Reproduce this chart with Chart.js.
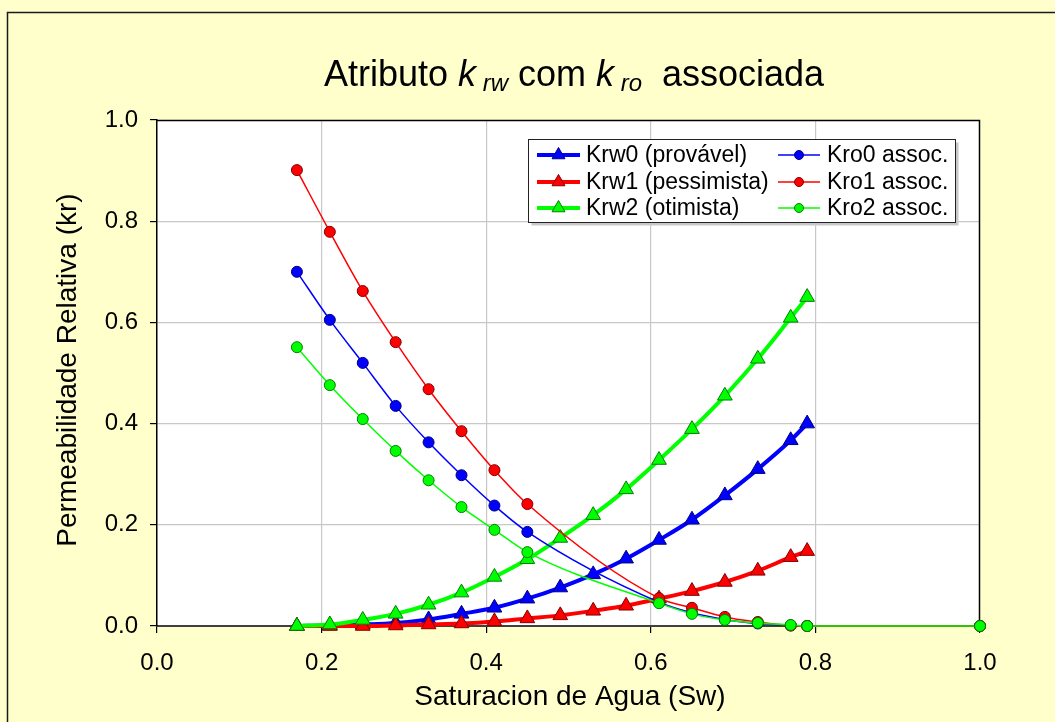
<!DOCTYPE html>
<html><head><meta charset="utf-8">
<script src="https://cdn.jsdelivr.net/npm/chart.js@4/dist/chart.umd.min.js"></script>
<style>html,body{margin:0;padding:0;background:#FFFFCC;overflow:hidden}#wrap{width:1055px;height:722px;position:relative}</style>
</head><body><div id="wrap"><canvas id="c" width="1055" height="722"></canvas></div>
<script>
// ---- data ----
const swKrw = [0.17,0.21,0.25,0.29,0.33,0.37,0.41,0.45,0.49,0.53,0.57,0.61,0.65,0.69,0.73,0.77,0.79];
const krw0  = [0.000,0.001,0.003,0.006,0.013,0.024,0.036,0.054,0.076,0.102,0.133,0.170,0.210,0.258,0.310,0.367,0.400];
const krw1  = [0.000,0.000,0.000,0.001,0.003,0.005,0.009,0.015,0.021,0.030,0.040,0.054,0.069,0.087,0.109,0.136,0.148];
const krw2  = [0.000,0.003,0.012,0.024,0.042,0.066,0.097,0.132,0.174,0.219,0.270,0.328,0.389,0.455,0.528,0.609,0.650];
const swKro = [0.17,0.21,0.25,0.29,0.33,0.37,0.41,0.45,0.61,0.65,0.69,0.73,0.77,0.79,1.0];
const kro0  = [0.700,0.605,0.520,0.435,0.363,0.298,0.238,0.186,0.047,0.026,0.013,0.005,0.001,0.000,0.000];
const kro1  = [0.901,0.779,0.662,0.561,0.468,0.385,0.308,0.241,0.055,0.036,0.018,0.008,0.001,0.000,0.000];
const kro2  = [0.551,0.476,0.409,0.346,0.288,0.235,0.190,0.146,0.045,0.024,0.012,0.006,0.002,0.000,0.000];
const seriesLabels = ['Krw0 (provável)','Krw1 (pessimista)','Krw2 (otimista)','Kro0 assoc.','Kro1 assoc.','Kro2 assoc.'];
const axisTicks = [0.0,0.2,0.4,0.6,0.8,1.0];
const xTitle = 'Saturacion de Agua (Sw)';
const yTitle = 'Permeabilidade Relativa (kr)';

const FONT = '"Liberation Sans", Arial, sans-serif';
const pts = (xs, ys) => xs.map((x,i)=>({x:x, y:ys[i]}));

function krwSet(label, ys, col, bcol, ord){
  return {label, data:pts(swKrw, ys), showLine:true, borderColor:col, backgroundColor:col,
    borderWidth:4, pointStyle:'triangle', pointRadius:8.5, pointBorderColor:bcol, pointBackgroundColor:col,
    pointBorderWidth:1, cubicInterpolationMode:'monotone', clip:false, order:ord};
}
function kroSet(label, ys, col, bcol, ord){
  return {label, data:pts(swKro, ys), showLine:true, borderColor:col, backgroundColor:col,
    borderWidth:1.5, pointStyle:'circle', pointRadius:5.5, pointBorderColor:bcol, pointBackgroundColor:col,
    pointBorderWidth:1, cubicInterpolationMode:'monotone', clip:false, order:ord};
}

const frame = {
  id:'frame',
  beforeDraw(chart){
    const {ctx, chartArea:a} = chart;
    ctx.save();
    ctx.fillStyle='#FFFFCC'; ctx.fillRect(0,0,chart.width,chart.height);
    ctx.strokeStyle='#1a1a1a'; ctx.lineWidth=1.5;
    ctx.strokeRect(7.5,12.5,chart.width+20,chart.height+20);
    ctx.fillStyle='#fff'; ctx.fillRect(a.left,a.top,a.right-a.left,a.bottom-a.top);
    ctx.restore();
  },
  beforeDatasetsDraw(chart){
    const {ctx, chartArea:a} = chart;
    ctx.save(); ctx.strokeStyle='#000'; ctx.lineWidth=1.5;
    ctx.beginPath(); ctx.moveTo(a.left,a.top+0.5); ctx.lineTo(a.right-0.5,a.top+0.5); ctx.lineTo(a.right-0.5,a.bottom); ctx.stroke();
    ctx.restore();
  },
  afterDraw(chart){
    const {ctx, chartArea:a} = chart;
    ctx.save();
    // title
    const parts = [
      {t:'Atributo ', s:36, it:false, dy:0},
      {t:'k', s:36, it:true, dy:0},
      {t:' rw', s:24, it:true, dy:5},
      {t:' com ', s:36, it:false, dy:0},
      {t:'k', s:36, it:true, dy:0},
      {t:' ro', s:24, it:true, dy:5},
      {t:'  associada', s:36, it:false, dy:0}
    ];
    let w=0;
    parts.forEach(p=>{ctx.font=(p.it?'italic ':'')+p.s+'px '+FONT; p.w=ctx.measureText(p.t).width; w+=p.w;});
    let x=574-w/2; ctx.fillStyle='#000'; ctx.textBaseline='alphabetic'; ctx.textAlign='left';
    parts.forEach(p=>{ctx.font=(p.it?'italic ':'')+p.s+'px '+FONT; ctx.fillText(p.t,x,86+p.dy); x+=p.w;});
    // axis titles
    ctx.font='28px '+FONT; ctx.textAlign='center'; ctx.textBaseline='middle';
    ctx.fillText(xTitle, 570, 697);
    ctx.save(); ctx.translate(68,370); ctx.rotate(-Math.PI/2); ctx.fillText(yTitle,0,0); ctx.restore();
    // legend
    const bx=528.5, by=139.5, bw=427, bh=83;
    ctx.fillStyle='#c8c8c8'; ctx.fillRect(bx+3,by+3,bw,bh);
    ctx.fillStyle='#fff'; ctx.fillRect(bx,by,bw,bh);
    ctx.strokeStyle='#222'; ctx.lineWidth=1; ctx.strokeRect(bx,by,bw,bh);
    const rows=[155,182,208];
    chart.data.datasets.forEach((ds,i)=>{
      const col = i<3?0:1;
      const y = rows[i%3];
      const lx0 = col===0?537:778, lx1 = col===0?580:820, tx = col===0?586:827;
      const cx=(lx0+lx1)/2;
      ctx.strokeStyle=ds.borderColor; ctx.lineWidth=ds.borderWidth;
      ctx.beginPath(); ctx.moveTo(lx0,y); ctx.lineTo(lx1,y); ctx.stroke();
      ctx.fillStyle=ds.pointBackgroundColor; ctx.strokeStyle=ds.pointBorderColor; ctx.lineWidth=1;
      ctx.beginPath();
      if(ds.pointStyle==='triangle'){const r=7.5; ctx.moveTo(cx, y-r); ctx.lineTo(cx+r*0.866, y+r*0.5); ctx.lineTo(cx-r*0.866, y+r*0.5); ctx.closePath();}
      else { ctx.arc(cx,y,4.5,0,Math.PI*2); }
      ctx.fill(); ctx.stroke();
      ctx.fillStyle='#000'; ctx.font='23px '+FONT; ctx.textAlign='left'; ctx.textBaseline='middle';
      ctx.fillText(ds.label, tx, y+1);
    });
    ctx.restore();
  }
};

const tickFont = {family:FONT, size:24};
const chart = new Chart(document.getElementById('c'), {
  type:'scatter',
  data:{datasets:[
    krwSet(seriesLabels[0], krw0, '#0000FF', '#000080', 5),
    krwSet(seriesLabels[1], krw1, '#FF0000', '#800000', 4),
    krwSet(seriesLabels[2], krw2, '#00FF00', '#008000', 3),
    kroSet(seriesLabels[3], kro0, '#0000FF', '#000080', 2),
    kroSet(seriesLabels[4], kro1, '#FF0000', '#800000', 1),
    kroSet(seriesLabels[5], kro2, '#00FF00', '#008000', 0)
  ]},
  options:{
    responsive:false, animation:false, devicePixelRatio:1,
    layout:{padding:{left:0, top:120, right:75, bottom:0}},
    plugins:{legend:{display:false}, tooltip:{enabled:false}, title:{display:false}},
    scales:{
      x:{type:'linear', min:0, max:1,
        afterBuildTicks(s){ s.ticks = axisTicks.map(v=>({value:v})); },
        afterFit(s){ s.height = 96; },
        ticks:{font:tickFont, color:'#000', padding:16, maxRotation:0, callback:v=>v.toFixed(1)},
        grid:{color:c=>(c.tick && (c.tick.value===0||c.tick.value===1))?'rgba(0,0,0,0)':'#c8c8c8', tickColor:'#000', tickLength:7, lineWidth:1.2},
        border:{color:'#404040', width:2}
      },
      y:{type:'linear', min:0, max:1,
        afterBuildTicks(s){ s.ticks = axisTicks.map(v=>({value:v})); },
        afterFit(s){ s.width = 157; },
        ticks:{font:tickFont, color:'#000', padding:12, callback:v=>v.toFixed(1)},
        grid:{color:c=>(c.tick && (c.tick.value===0||c.tick.value===1))?'rgba(0,0,0,0)':'#c8c8c8', tickColor:'#000', tickLength:7, lineWidth:1.2},
        border:{color:'#000', width:1.5}
      }
    }
  },
  plugins:[frame]
});
</script></body></html>
